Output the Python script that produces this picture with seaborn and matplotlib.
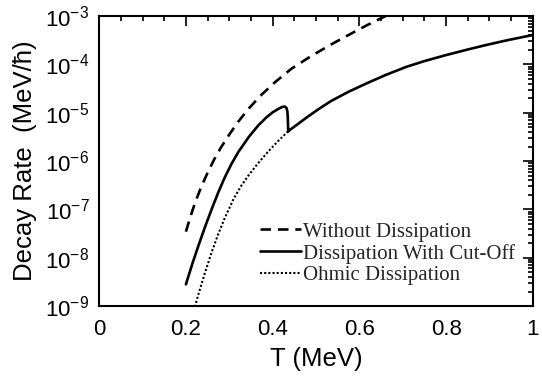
import matplotlib
matplotlib.use("Agg")
import matplotlib.pyplot as plt
import seaborn as sns
import pandas as pd
from matplotlib.ticker import FixedLocator, FixedFormatter, LogLocator, NullFormatter

# ---- data ----
no_diss_T = [0.200, 0.210, 0.222, 0.235, 0.250, 0.265, 0.280, 0.300, 0.321, 0.345,
             0.374, 0.405, 0.443, 0.488, 0.534, 0.575, 0.617, 0.660, 0.700]
no_diss_rate = [3.467e-8, 6.918e-8, 1.445e-7, 2.884e-7, 5.754e-7, 1.072e-6, 1.862e-6,
                3.548e-6, 6.607e-6, 1.230e-5, 2.344e-5, 4.266e-5, 8.128e-5, 1.479e-4,
                2.570e-4, 4.074e-4, 6.457e-4, 1.000e-3, 1.479e-3]

cutoff_T = [0.200, 0.215, 0.230, 0.245, 0.260, 0.275, 0.290, 0.305, 0.321, 0.345,
            0.367, 0.385, 0.400, 0.413, 0.422, 0.428, 0.432, 0.434, 0.435, 0.436,
            0.439, 0.460, 0.481, 0.505, 0.534, 0.575, 0.617, 0.660, 0.708, 0.750,
            0.800, 0.850, 0.891, 0.940, 1.000]
cutoff_rate = [2.818e-9, 7.586e-9, 1.905e-8, 4.571e-8, 1.047e-7, 2.291e-7, 4.677e-7,
               8.710e-7, 1.549e-6, 3.162e-6, 5.495e-6, 7.943e-6, 1.023e-5, 1.202e-5,
               1.318e-5, 1.349e-5, 1.259e-5, 1.072e-5, 7.943e-6, 4.074e-6, 4.365e-6,
               6.026e-6, 8.318e-6, 1.175e-5, 1.738e-5, 2.723e-5, 4.074e-5, 6.026e-5,
               8.913e-5, 1.175e-4, 1.567e-4, 2.042e-4, 2.512e-4, 3.162e-4, 4.074e-4]

ohmic_T = [0.218, 0.230, 0.245, 0.260, 0.275, 0.290, 0.310, 0.327, 0.344, 0.365,
           0.390, 0.412, 0.435]
ohmic_rate = [7.943e-10, 1.905e-9, 5.248e-9, 1.349e-8, 3.162e-8, 6.761e-8, 1.660e-7,
              3.020e-7, 5.012e-7, 8.710e-7, 1.585e-6, 2.570e-6, 4.074e-6]

series_names = ["Without Dissipation", "Dissipation With Cut-Off", "Ohmic Dissipation"]

x_ticks = [0, 0.2, 0.4, 0.6, 0.8, 1.0]
x_tick_labels = ["0", "0.2", "0.4", "0.6", "0.8", "1"]
y_ticks = [1e-9, 1e-8, 1e-7, 1e-6, 1e-5, 1e-4, 1e-3]
y_tick_labels = [r"$\mathregular{10^{-9}}$", r"$\mathregular{10^{-8}}$", r"$\mathregular{10^{-7}}$",
                 r"$\mathregular{10^{-6}}$", r"$\mathregular{10^{-5}}$", r"$\mathregular{10^{-4}}$",
                 r"$\mathregular{10^{-3}}$"]

# ---- style ----
sns.set_theme(style="white")
plt.rcParams["font.family"] = ["Liberation Sans", "DejaVu Sans"]
plt.rcParams["mathtext.fontset"] = "custom"
plt.rcParams["mathtext.rm"] = "Liberation Sans"
plt.rcParams["mathtext.it"] = "Liberation Sans:italic"
plt.rcParams["mathtext.bf"] = "Liberation Sans:bold"

fig = plt.figure(figsize=(5.42, 3.76), dpi=100)
ax = fig.add_axes([0.183, 0.186, 0.983 - 0.183, 0.957 - 0.186])

df1 = pd.DataFrame({"T": no_diss_T, "rate": no_diss_rate})
df2 = pd.DataFrame({"T": cutoff_T, "rate": cutoff_rate})
df3 = pd.DataFrame({"T": ohmic_T, "rate": ohmic_rate})

sns.lineplot(data=df1, x="T", y="rate", ax=ax, color="black", lw=1.9,
             estimator=None, sort=False, label=series_names[0])
ax.lines[-1].set_dashes((4.0, 2.6))
sns.lineplot(data=df2, x="T", y="rate", ax=ax, color="black", lw=1.9,
             estimator=None, sort=False, label=series_names[1])
sns.lineplot(data=df3, x="T", y="rate", ax=ax, color="black", lw=1.5,
             estimator=None, sort=False, label=series_names[2])
ax.lines[-1].set_dashes((1.0, 1.0))

ax.set_yscale("log")
ax.set_xlim(0, 1)
ax.set_ylim(1e-9, 1e-3)

ax.xaxis.set_major_locator(FixedLocator(x_ticks))
ax.xaxis.set_major_formatter(FixedFormatter(x_tick_labels))
ax.xaxis.set_minor_locator(FixedLocator([i * 0.05 for i in range(21)]))
ax.yaxis.set_major_locator(FixedLocator(y_ticks))
ax.yaxis.set_major_formatter(FixedFormatter(y_tick_labels))
ax.yaxis.set_minor_locator(LogLocator(base=10, subs=range(2, 10), numticks=20))
ax.yaxis.set_minor_formatter(NullFormatter())

ax.tick_params(which="both", direction="in", top=True, right=True, colors="black",
               width=1.2)
ax.tick_params(which="major", length=7, labelsize=16, pad=7)
ax.tick_params(which="minor", length=3.5)
ax.tick_params(axis="x", which="major", pad=9)

for s in ax.spines.values():
    s.set_visible(True)
    s.set_color("black")
    s.set_linewidth(1.5)

ax.set_xlabel("T (MeV)", fontsize=18.5, labelpad=5, color="black")
ax.set_ylabel("Decay Rate  (MeV/\u0127)", fontsize=18.5, labelpad=6, color="black")

leg = ax.legend(loc="upper left", bbox_to_anchor=(0.37, 0.29), frameon=False,
                prop={"family": "Liberation Serif", "size": 15},
                handlelength=2.0, handletextpad=0.1, labelspacing=0.1,
                borderpad=0, borderaxespad=0)

fig.savefig("out.png", dpi=100)
